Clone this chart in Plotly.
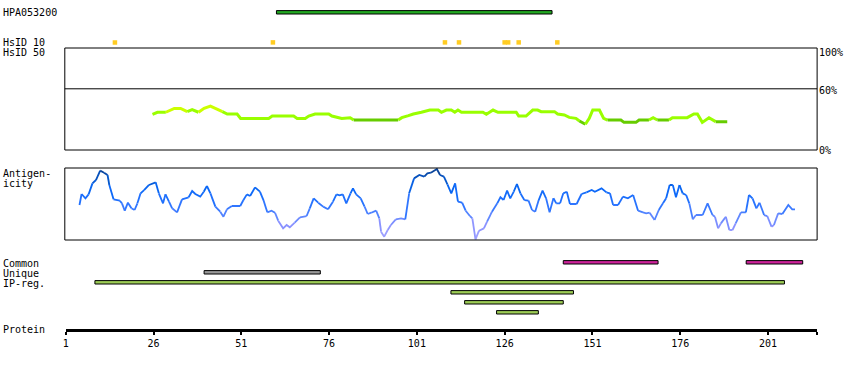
import plotly.graph_objects as go

# ---------------- data ----------------
protein_length = 215
tick_values = [1, 26, 51, 76, 101, 126, 151, 176, 201]

antibody_name = "HPA053200"
antibody_span = (61, 139.5)

hsid10_residues = [15, 60, 109, 113, 126, 127, 130, 141]

identity_res = [25.7, 27.1, 29.5, 31.9, 33.7, 35.6, 37.0, 38.8, 40.4, 42.2, 43.7, 45.6, 47.0, 49.8,
                50.8, 58.8, 59.8, 65.9, 66.9, 69.2, 70.2, 72.0, 75.9, 76.8, 79.6, 82.0, 83.0, 95.7,
                96.7, 98.6, 100.0, 102.3, 104.7, 107.1, 108.0, 109.4, 110.8, 111.8, 112.7, 113.7,
                119.8, 120.8, 122.7, 124.1, 129.3, 130.0, 132.1, 134.0, 135.4, 136.4, 140.2, 141.1,
                143.0, 144.4, 146.3, 147.3, 149.0, 150.1, 151.1, 153.0, 154.2, 155.3, 159.1, 160.0,
                163.4, 164.3, 167.1, 168.3, 169.5, 172.8, 173.8, 178.0, 179.9, 180.9, 182.3, 184.2,
                186.1, 189.4]
identity_pct = [35.0, 37.0, 37.0, 40.8, 40.8, 37.6, 39.5, 37.0, 40.8, 43.1, 40.8, 37.6, 35.3, 35.3,
                31.0, 31.0, 33.3, 33.3, 31.0, 31.0, 33.3, 35.3, 35.3, 33.3, 31.0, 31.7, 29.4, 29.4,
                31.7, 33.7, 35.3, 37.0, 39.2, 39.2, 37.0, 39.2, 39.2, 37.0, 39.2, 37.0,
                37.0, 35.0, 39.2, 37.0, 37.0, 33.3, 33.3, 39.2, 39.2, 37.6, 37.6, 35.3,
                34.3, 32.0, 31.0, 28.4, 25.2, 31.0, 39.2, 39.2, 31.0, 29.4, 29.4, 27.1,
                27.1, 29.4, 29.4, 31.7, 29.4, 29.4, 31.7, 31.7, 35.3, 35.3, 27.1, 31.7,
                27.8, 27.8]

antigen_res = [4.9, 5.5, 6.6, 7.5, 8.6, 9.6, 10.8, 11.9, 12.9, 13.4, 14.6, 16.4, 17.0, 17.8, 18.7,
               19.7, 20.6, 21.4, 22.3, 23.3, 24.7, 26.6, 27.5, 28.7, 29.4, 30.4, 31.3, 32.7, 34.1,
               36.0, 37.0, 37.9, 39.3, 40.3, 41.2, 42.2, 43.6, 45.0, 45.9, 46.9, 48.3, 50.7, 51.6,
               52.6, 53.5, 54.9, 56.3, 57.3, 58.4, 59.6, 60.6, 61.5, 62.9, 63.9, 64.8, 66.2, 67.7,
               69.6, 70.5, 71.6, 72.9, 74.3, 75.7, 77.1, 78.1, 79.0, 79.9, 80.9, 82.1, 82.8, 83.7,
               85.0, 86.1, 87.0, 88.0, 89.4, 90.3, 90.8, 91.7, 92.7, 93.6, 95.0, 96.5, 97.7, 98.8,
               100.2, 101.7, 103.1, 104.0, 105.0, 105.4, 106.7, 107.6, 108.7, 109.7, 110.8, 111.9,
               112.7, 113.9, 114.9, 116.1, 116.8, 117.7, 118.7, 120.1, 121.0, 122.4, 123.9, 124.8,
               125.7, 126.7, 127.6, 128.6, 129.5, 130.5, 131.6, 132.8, 133.8, 134.7, 135.7, 136.8,
               137.8, 138.8, 139.9, 140.7, 141.8, 142.7, 143.7, 144.6, 146.5, 147.9, 149.3, 150.8,
               151.7, 153.6, 155.0, 156.0, 156.9, 158.3, 159.7, 161.1, 162.6, 164.0, 165.4, 166.3,
               167.3, 168.7, 169.9, 171.1, 172.0, 173.0, 173.9, 174.8, 175.8, 176.7, 177.7, 178.6,
               179.6, 180.5, 182.4, 183.8, 185.2, 185.9, 186.8, 187.6, 189.0, 190.0, 190.9, 191.8,
               193.3, 194.7, 195.6, 196.6, 197.7, 198.6, 199.9, 200.8, 202.0, 202.7, 203.9, 205.1,
               206.8, 207.9, 208.7]
antigen_val = [48.6, 63.9, 57.9, 63.4, 78.7, 83.3, 96.3, 93.5, 90.3, 76.4, 56.5, 54.6, 50.9, 40.7, 51.8,
               44.0, 41.7, 50.9, 64.8, 69.4, 76.4, 80.1, 64.8, 50.9, 63.4, 53.2, 44.0, 38.4, 56.5,
               59.3, 68.0, 63.9, 60.2, 67.1, 75.0, 64.8, 46.3, 39.3, 32.4, 42.6, 47.2, 47.2, 55.5,
               63.4, 61.1, 73.1, 67.1, 55.5, 38.4, 40.7, 37.9, 26.8, 16.2, 20.8, 17.6, 24.1, 31.5,
               33.3, 44.0, 57.9, 51.8, 46.3, 42.6, 53.2, 63.4, 62.0, 63.4, 50.9, 64.8, 71.7, 63.4,
               57.9, 46.3, 36.1, 37.9, 40.7, 30.1, 11.6, 4.6, 13.9, 20.8, 28.7, 30.1, 28.7, 64.8,
               85.6, 90.3, 88.0, 92.6, 93.5, 94.9, 98.6, 90.3, 88.0, 77.3, 64.8, 78.7,
               53.2, 51.8, 40.7, 33.3, 30.1, 0.9, 12.9, 16.2, 25.4, 39.3, 50.9, 59.3,
               55.5, 68.5, 57.9, 67.1, 77.8, 64.8, 55.5, 54.6, 41.7, 39.3, 55.5, 68.5,
               57.9, 38.4, 57.9, 50.9, 50.9, 64.8, 67.1, 50.0, 50.0, 63.9, 66.2, 69.4,
               67.1, 71.7, 66.2, 64.8, 48.6, 48.6, 60.2, 57.9, 62.5, 40.7, 38.4, 37.0,
               37.9, 27.8, 41.7, 50.9, 57.9, 76.4, 76.4, 59.3, 76.4, 64.8, 62.5, 50.9,
               28.7, 34.7, 34.7, 50.9, 34.7, 32.4, 16.2, 23.1, 32.4, 13.9, 13.9, 23.1,
               38.4, 38.4, 62.5, 57.9, 44.0, 51.8, 34.7, 33.3, 18.5, 20.8, 37.0, 36.1,
               48.6, 42.6, 42.6]

common_spans = [(142.7, 169.7), (194.8, 210.9)]
unique_spans = [(40.4, 73.5)]
ipreg_spans = [(9.3, 205.7), (110.7, 145.6), (114.6, 142.7), (123.7, 135.6)]

# ---------------- layout helpers ----------------
W, H = 850, 370
FONT = "DejaVu Sans Mono"


def py(pix):
    return 1 - pix / H


X_LEFT, X_RIGHT = 63, 817
ROW = {"hpa": 12.3, "hsid": 42.4, "common": 262.3, "unique": 272.3, "ip": [282.3, 292.3, 302.3, 312.3]}

fig = go.Figure()


def add_bars(spans, rows, color):
    fig.add_trace(go.Bar(
        orientation="h", base=[s for s, e in spans], x=[e - s for s, e in spans], y=rows,
        width=3.4, marker=dict(color=color, line=dict(color="black", width=1)),
        xaxis="x", yaxis="y", hoverinfo="skip", showlegend=False))


add_bars([antibody_span], [ROW["hpa"]], "#22a822")
add_bars(common_spans, [ROW["common"]] * len(common_spans), "#cc2299")
add_bars(unique_spans, [ROW["unique"]] * len(unique_spans), "#999999")
add_bars(ipreg_spans, ROW["ip"][:len(ipreg_spans)], "#9ccc55")

fig.add_trace(go.Scatter(
    x=hsid10_residues, y=[ROW["hsid"]] * len(hsid10_residues), mode="markers",
    marker=dict(symbol="square", size=4.5, color="#ffcc22", line=dict(width=0)),
    xaxis="x", yaxis="y", hoverinfo="skip", showlegend=False))


def identity_color(v):
    if v < 30:
        return "#66cc00"
    if v < 40:
        return "#99ff00"
    return "#ccff00"


def hex2rgb(h):
    return tuple(int(h[i:i + 2], 16) for i in (1, 3, 5))


ANT_STOPS = [(0, "#a8a8ff"), (20, "#8a92ff"), (35, "#5584ff"), (50, "#2a74ff"),
             (70, "#0a68f8"), (85, "#0556c8"), (100, "#0d3f8a")]


def antigen_color(v):
    v = max(0, min(100, round(v / 4) * 4))
    for (a, ca), (b, cb) in zip(ANT_STOPS[:-1], ANT_STOPS[1:]):
        if a <= v <= b:
            t = (v - a) / (b - a)
            ra, rb = hex2rgb(ca), hex2rgb(cb)
            return "rgb(%d,%d,%d)" % tuple(round(x + (y - x) * t) for x, y in zip(ra, rb))
    return ANT_STOPS[-1][1]


def add_colored_line(xs, ys, color_fn, yaxis, width):
    cols = [color_fn(max(ys[i], ys[i + 1]) if yaxis == "y2" else (ys[i] + ys[i + 1]) / 2)
            for i in range(len(xs) - 1)]
    i = 0
    while i < len(cols):
        j = i
        while j + 1 < len(cols) and cols[j + 1] == cols[i]:
            j += 1
        fig.add_trace(go.Scatter(
            x=xs[i:j + 2], y=ys[i:j + 2], mode="lines",
            line=dict(color=cols[i], width=width), xaxis="x", yaxis=yaxis,
            hoverinfo="skip", showlegend=False))
        i = j + 1


add_colored_line(identity_res, identity_pct, identity_color, "y2", 3)
add_colored_line(antigen_res, antigen_val, antigen_color, "y3", 1.8)

# panel boxes and 60% line
shapes = [
    dict(type="rect", xref="x domain", yref="y2 domain", x0=-0.0013, x1=1, y0=0, y1=1,
         line=dict(color="black", width=1)),
    dict(type="line", xref="x domain", yref="y2", x0=-0.0013, x1=1, y0=60, y1=60,
         line=dict(color="black", width=1)),
    dict(type="rect", xref="x domain", yref="y3 domain", x0=-0.0013, x1=1, y0=0, y1=1,
         line=dict(color="black", width=1)),
]

annots = []


def label(text, ypix, x=-2, anchor="left"):
    annots.append(dict(text=text, x=x / W, y=py(ypix), xref="paper", yref="paper",
                       xanchor=anchor, yanchor="middle", showarrow=False,
                       font=dict(family=FONT, size=10, color="black")))


label(antibody_name, 12.5)
label("HsID 10", 42.5)
label("HsID 50", 52.5)
label("Antigen-", 173.3)
label("icity", 183.8)
label("Common", 263)
label("Unique", 273)
label("IP-reg.", 283)
label("Protein", 329.5)
label("100%", 52.5, x=817)
label("60%", 90.5, x=817)
label("0%", 150.3, x=817)

fig.update_layout(
    width=W, height=H, margin=dict(l=0, r=0, t=0, b=0),
    paper_bgcolor="white", plot_bgcolor="white", barmode="overlay", showlegend=False,
    xaxis=dict(domain=[X_LEFT / W, X_RIGHT / W], range=[1, protein_length],
               anchor="free", position=py(329.5),
               tickvals=tick_values + [protein_length],
               ticktext=[str(t) for t in tick_values] + [""],
               showline=True, linewidth=3, linecolor="black",
               ticks="outside", ticklen=3, tickwidth=2, tickcolor="black",
               tickfont=dict(family=FONT, size=10, color="black"),
               showgrid=False, zeroline=False, fixedrange=True),
    yaxis=dict(domain=[0, 1], range=[H, 0], visible=False, fixedrange=True),
    yaxis2=dict(domain=[py(150), py(48)], range=[0, 100], visible=False,
                anchor="free", position=0, fixedrange=True),
    yaxis3=dict(domain=[py(240), py(168)], range=[0, 100], visible=False,
                anchor="free", position=0, fixedrange=True),
    shapes=shapes, annotations=annots,
)

fig.write_html("out.html", config={"displayModeBar": False},
               post_script="document.body.style.margin='0';")
